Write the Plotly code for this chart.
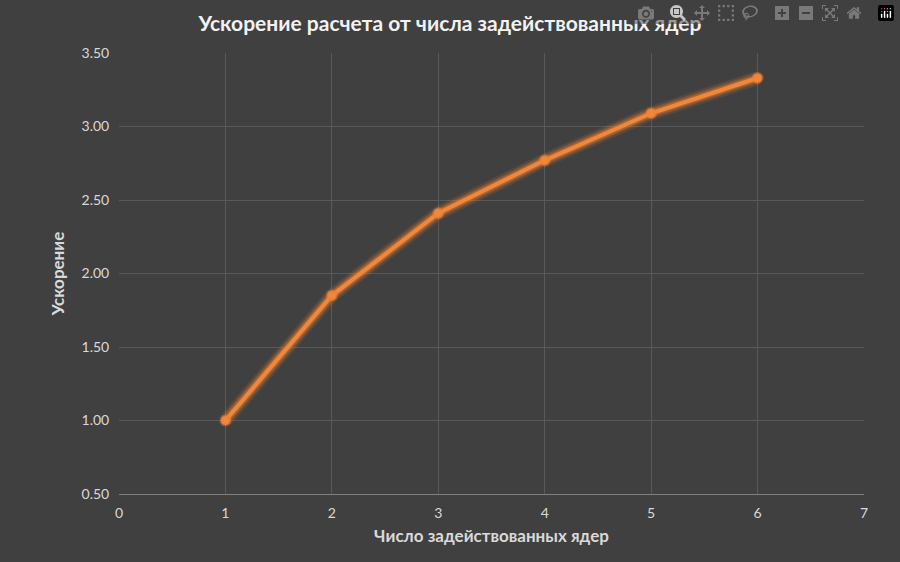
import plotly.graph_objects as go

cores = [1, 2, 3, 4, 5, 6]
speedup = [1.00, 1.85, 2.41, 2.77, 3.09, 3.33]
x_ticks = [0, 1, 2, 3, 4, 5, 6, 7]
y_ticks = [0.5, 1.0, 1.5, 2.0, 2.5, 3.0, 3.5]

fig = go.Figure()
for w, a in [(14, 0.15), (10, 0.25), (7, 0.4)]:
    fig.add_trace(go.Scatter(x=cores, y=speedup, mode="lines",
                             line=dict(color=f"rgba(237,125,49,{a})", width=w),
                             hoverinfo="skip", showlegend=False))
fig.add_trace(go.Scatter(x=cores, y=speedup, mode="lines+markers",
                         line=dict(color="#F0883C", width=4),
                         marker=dict(size=9, color="#F0883C",
                                     line=dict(color="rgba(237,125,49,0.5)", width=3)),
                         showlegend=False))

font = "Lato, Open Sans, sans-serif"
fig.update_layout(
    width=900, height=562,
    margin=dict(l=119, r=36, t=53, b=68),
    paper_bgcolor="#404040", plot_bgcolor="#404040",
    font=dict(family=font, color="#D9D9D9", size=14),
    title=dict(text="<b>Ускорение расчета от числа задействованных ядер</b>",
               x=0.5, xanchor="center", y=0.958, yanchor="middle",
               font=dict(size=21, color="#F2F2F2", family=font)),
    xaxis=dict(range=[0, 7], tickvals=x_ticks, showgrid=True,
               gridcolor="#595959", gridwidth=1, zeroline=False,
               showline=True, linecolor="#7F7F7F",
               ticks="outside", ticklen=6, tickcolor="rgba(0,0,0,0)",
               tickfont=dict(size=14, color="#D9D9D9"),
               title=dict(text="<b>Число задействованных ядер</b>",
                          font=dict(size=17, color="#D9D9D9"), standoff=10)),
    yaxis=dict(range=[0.5, 3.5], tickvals=y_ticks, tickformat=".2f",
               showgrid=True, gridcolor="#595959", zeroline=False,
               showline=False, ticks="outside", ticklen=6, tickcolor="rgba(0,0,0,0)",
               tickfont=dict(size=14, color="#D9D9D9"),
               title=dict(text="<b>Ускорение</b>",
                          font=dict(size=17, color="#D9D9D9"), standoff=12)),
)
fig.write_html("out.html",
               post_script="document.body.style.margin='0';document.body.style.background='#404040';")
